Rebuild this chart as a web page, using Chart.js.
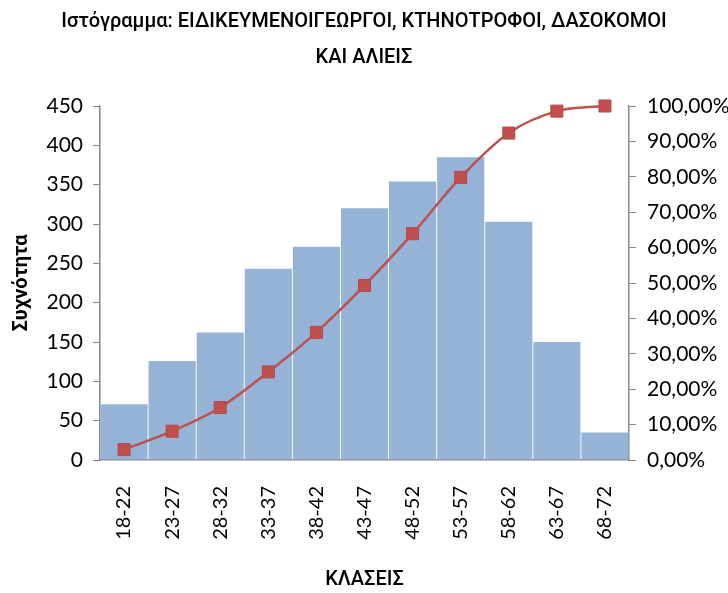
<!DOCTYPE html>
<html>
<head>
<meta charset="utf-8">
<script src="https://cdn.jsdelivr.net/npm/chart.js@4"></script>
<style>
  body { margin: 0; background: #fff; }
</style>
</head>
<body>
<canvas id="hist" width="728" height="593"></canvas>
<script>
// κλάσεις ηλικίας
let klaseis = ["18-22", "23-27", "28-32", "33-37", "38-42", "43-47", "48-52", "53-57", "58-62", "63-67", "68-72"]
// συχνότητα ανά κλάση (διαβασμένη από το γράφημα)
let syxnotita = [71, 126, 162, 243, 271, 320, 354, 385, 303, 150, 35]
// αθροιστικό ποσοστό %
let athroistiko = [2.93, 8.14, 14.83, 24.88, 36.07, 49.30, 63.93, 79.84, 92.36, 98.55, 100]

let titlos = ["Ιστόγραμμα: ΕΙΔΙΚΕΥΜΕΝΟΙΓΕΩΡΓΟΙ, ΚΤΗΝΟΤΡΟΦΟΙ, ΔΑΣΟΚΟΜΟΙ", "ΚΑΙ ΑΛΙΕΙΣ"]

let fontFam = "Lato, 'Open Sans', sans-serif"
let greekFam = "Roboto, 'Open Sans', sans-serif"
let axisGrey = '#868686'

new Chart(document.getElementById("hist"), {
  data: {
    labels: klaseis,
    datasets: [
      {
        type: 'line',
        label: 'Αθροιστικό %',
        data: athroistiko,
        yAxisID: 'y1',
        borderColor: '#C0504D',
        borderWidth: 2.5,
        cubicInterpolationMode: 'monotone',
        pointStyle: 'rect',
        pointRadius: 8.5,
        pointBackgroundColor: '#C0504D',
        pointBorderColor: '#B9474A',
        pointBorderWidth: 1,
        clip: false,
        order: 0
      },
      {
        type: 'bar',
        label: 'Συχνότητα',
        data: syxnotita,
        yAxisID: 'y',
        backgroundColor: '#95B3D7',
        barPercentage: 0.98,
        categoryPercentage: 1,
        order: 1
      }
    ]
  },
  options: {
    responsive: false,
    animation: false,
    layout: { padding: 0 },
    plugins: {
      legend: { display: false },
      tooltip: { enabled: false },
      title: {
        display: true,
        text: titlos,
        color: '#000',
        font: { family: greekFam, size: 20, weight: '500', lineHeight: 1.8 },
        padding: { top: 4, bottom: 30 }
      }
    },
    scales: {
      x: {
        grid: { display: true, drawOnChartArea: false, drawTicks: false, color: axisGrey },
        border: { display: true, color: axisGrey, width: 1.5 },
        ticks: {
          color: '#000',
          minRotation: 90,
          maxRotation: 90,
          padding: 26,
          font: { family: fontFam, size: 20 }
        },
        title: {
          display: true,
          text: 'ΚΛΑΣΕΙΣ',
          color: '#000',
          font: { family: greekFam, size: 20, weight: '500' },
          padding: { top: 0, bottom: 1 }
        },
        afterFit: function(scale) { scale.height = 133 }
      },
      y: {
        position: 'left',
        min: 0,
        max: 450,
        ticks: {
          stepSize: 50,
          color: '#000',
          padding: 10,
          font: { family: fontFam, size: 21 }
        },
        grid: { drawOnChartArea: false, drawTicks: true, tickLength: 7, color: axisGrey },
        border: { display: true, color: axisGrey, width: 1.5 },
        title: {
          display: true,
          text: 'Συχνότητα',
          color: '#000',
          font: { family: greekFam, size: 20, weight: 'bold' },
          padding: { top: 10, bottom: 0 }
        },
        afterFit: function(scale) { scale.width = 100 }
      },
      y1: {
        position: 'right',
        min: 0,
        max: 100,
        ticks: {
          stepSize: 10,
          color: '#000',
          padding: 11,
          font: { family: fontFam, size: 21 },
          callback: function(v) { return v.toFixed(2).replace('.', ',') + '%' }
        },
        grid: { drawOnChartArea: false, drawTicks: true, tickLength: 7, color: axisGrey },
        border: { display: true, color: axisGrey, width: 1.5 },
        afterFit: function(scale) { scale.width = 99 }
      }
    }
  }
});
</script>
</body>
</html>
